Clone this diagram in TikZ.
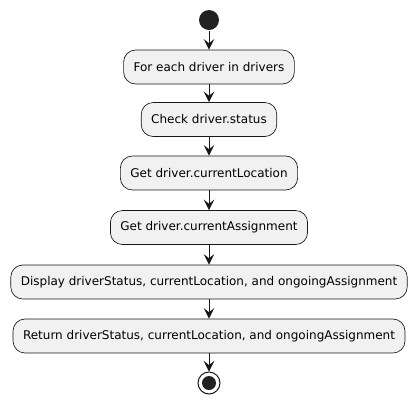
\documentclass[tikz,border=0pt]{standalone}
\usepackage{fontspec}
\setmainfont{DejaVu Sans}
\usetikzlibrary{arrows.meta}

\definecolor{umlline}{HTML}{181818}
\definecolor{umlfill}{HTML}{F1F1F1}
\definecolor{umldot}{HTML}{222222}

\tikzset{every picture/.style={line width=0.75pt}}
\tikzset{
  actbox/.style={draw=umlline, fill=umlfill, line width=0.5pt, rounded corners=9pt,
    minimum height=25.5pt, inner xsep=7.5pt, inner ysep=0pt, font=\fontsize{9pt}{11pt}\selectfont},
  flow/.style={draw=umlline, line width=0.75pt, -{Stealth[length=8pt,width=8pt,inset=3.2pt]}},
}

\begin{document}
\begin{tikzpicture}[x=0.75pt,y=0.75pt,yscale=-1,xscale=1]
    \useasboundingbox (0,0) rectangle (418,405);

    % Start
    \node [circle, fill=umldot, minimum size=15pt, inner sep=0pt] (start) at (209,20) {};

    % Activities
    \node [actbox] (foreach) at (209,67) {For each driver in drivers};
    \node [actbox] (status) at (209,119.5) {Check driver.status};
    \node [actbox] (location) at (209,173) {Get driver.currentLocation};
    \node [actbox] (assign) at (209,227.5) {Get driver.currentAssignment};
    \node [actbox] (display) at (209,282) {Display driverStatus, currentLocation, and ongoingAssignment};
    \node [actbox] (return) at (209,336) {Return driverStatus, currentLocation, and ongoingAssignment};

    % Stop
    \node [circle, draw=umlline, line width=0.75pt, fill=white, minimum size=16.5pt, inner sep=0pt] (stop) at (209,383) {};
    \node [circle, fill=umldot, minimum size=10.5pt, inner sep=0pt] (stopdot) at (stop.center) {};

    % Connectors
    \draw [flow] (start) -- (foreach);
    \draw [flow] (foreach) -- (status);
    \draw [flow] (status) -- (location);
    \draw [flow] (location) -- (assign);
    \draw [flow] (assign) -- (display);
    \draw [flow] (display) -- (return);
    \draw [flow] (return) -- (stop);

\end{tikzpicture}
\end{document}
